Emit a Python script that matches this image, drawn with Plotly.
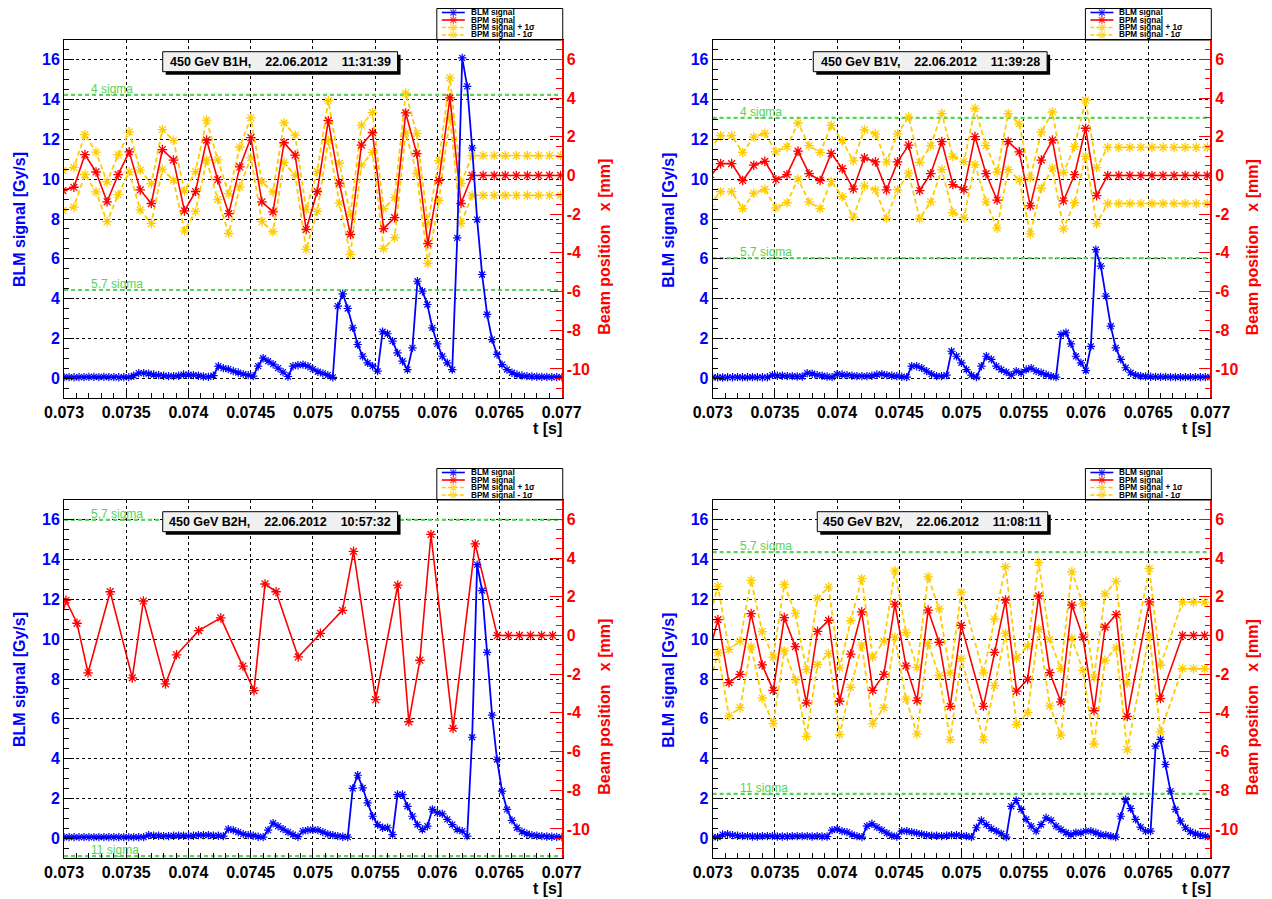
import numpy as np
import plotly.graph_objects as go

W, H = 1272, 899
# measured mapping from figure paper coordinates to the photographed page
AX, KX = 26.9, 0.9692   # horizontal: screen_x = AX + KX * paper_x * W
OY = 8                  # vertical:   screen_y = OY + (1 - paper_y) * H
FONT = "Liberation Sans"

# ---------------------------------------------------------------- data
T_RANGE = [0.073, 0.077]
X_TICKS = [0.073, 0.0735, 0.074, 0.0745, 0.075, 0.0755, 0.076, 0.0765, 0.077]
X_TICK_LABELS = ["0.073", "0.0735", "0.074", "0.0745", "0.075", "0.0755", "0.076", "0.0765", "0.077"]
BLM_RANGE = [-1, 17]
BLM_TICKS = [0, 2, 4, 6, 8, 10, 12, 14, 16]
BPM_RANGE = [-11.5, 7]
BPM_TICKS = [-10, -8, -6, -4, -2, 0, 2, 4, 6]
BPM_TICK_LABELS = ["-10", "-8", "-6", "-4", "-2", "0", "2", "4", "6"]

TITLES = [
    ("450 GeV B1H,", "22.06.2012", "11:31:39"),
    ("450 GeV B1V,", "22.06.2012", "11:39:28"),
    ("450 GeV B2H,", "22.06.2012", "10:57:32"),
    ("450 GeV B2V,", "22.06.2012", "11:08:11"),
]
LEGEND_LABELS = ["BLM signal", "BPM signal", "BPM signal + 1\u03c3", "BPM signal - 1\u03c3"]

# BLM running sum, one sample every 40 us from t = 0.073 s
BLM_T0 = 0.073
BLM_DT = 0.00004
BLM1 = [0.05, 0.05, 0.04, 0.05, 0.05, 0.06, 0.06, 0.05, 0.06, 0.05, 0.05, 0.04, 0.05, 0.05,
        0.12, 0.25, 0.25, 0.22, 0.18, 0.15, 0.12, 0.10, 0.10, 0.12, 0.18, 0.17, 0.15, 0.12, 0.08, 0.06,
        0.12, 0.60, 0.50, 0.45, 0.35, 0.28, 0.20, 0.15, 0.10,
        0.60, 1.00, 0.85, 0.70, 0.50, 0.30, 0.08,
        0.60, 0.65, 0.68, 0.60, 0.45, 0.32, 0.24, 0.15, 0.04,
        3.62, 4.24, 3.50, 2.53, 1.69, 1.10, 0.77, 0.60, 0.35,
        2.33, 2.23, 1.86, 1.27, 0.85, 0.43,
        1.52, 4.87, 4.37, 3.70, 2.53, 1.72, 1.10, 0.77, 0.43,
        7.05, 16.1, 14.67, 11.57, 7.97, 5.21, 3.20, 1.94, 1.19, 0.68, 0.43, 0.27, 0.18, 0.13,
        0.10, 0.08, 0.07, 0.06, 0.06, 0.05, 0.05, 0.05]
BLM2 = [0.04, 0.04, 0.03, 0.04, 0.04, 0.05, 0.04, 0.04, 0.05, 0.04, 0.04, 0.04,
        0.15, 0.12, 0.12, 0.10, 0.10, 0.08, 0.08,
        0.25, 0.22, 0.15, 0.12, 0.08, 0.05,
        0.20, 0.18, 0.15, 0.12, 0.10, 0.10, 0.10, 0.12, 0.18, 0.20, 0.15, 0.12, 0.10, 0.07, 0.05,
        0.60, 0.60, 0.50, 0.35, 0.20, 0.10, 0.10, 0.15,
        1.35, 1.10, 0.77, 0.43, 0.15, 0.05,
        0.60, 1.10, 0.94, 0.60, 0.43, 0.30, 0.15, 0.35, 0.27, 0.43, 0.50, 0.35, 0.27, 0.18, 0.10, 0.05,
        2.20, 2.28, 1.72, 1.10, 0.77, 0.38, 1.60,
        6.46, 5.63, 4.12, 2.61, 1.52, 0.94, 0.52, 0.27, 0.15, 0.10, 0.08, 0.07,
        0.06, 0.06, 0.06, 0.05, 0.05, 0.05, 0.05, 0.05, 0.05, 0.05, 0.05, 0.05]
BLM3 = [0.05] * 17 + [
        0.15, 0.12, 0.12, 0.10, 0.10, 0.12, 0.12, 0.12, 0.10, 0.12, 0.15, 0.15, 0.15, 0.12, 0.12, 0.10,
        0.45, 0.40, 0.30, 0.20, 0.15, 0.12, 0.07, 0.05,
        0.40, 0.75, 0.60, 0.45, 0.30, 0.18, 0.07,
        0.35, 0.40, 0.42, 0.40, 0.30, 0.20, 0.15, 0.10, 0.07, 0.05,
        2.50, 3.16, 2.53, 1.77, 1.10, 0.68, 0.52, 0.52, 0.18,
        2.19, 2.19, 1.60, 1.10, 0.68, 0.43, 0.60, 1.44, 1.27, 1.22, 0.94, 0.68, 0.43, 0.35, 0.10,
        5.07, 13.75, 12.44, 9.34, 6.18, 3.95, 2.36, 1.44, 0.89, 0.52, 0.32, 0.22, 0.15, 0.12, 0.10,
        0.08, 0.07, 0.06, 0.05]
BLM4 = [0.05, 0.05,
        0.18, 0.20, 0.15,
        0.12, 0.10, 0.10, 0.08, 0.08, 0.10, 0.10, 0.10, 0.08, 0.08, 0.08, 0.10, 0.10, 0.10, 0.10, 0.08,
        0.10, 0.08, 0.08,
        0.40, 0.45, 0.35, 0.30, 0.18, 0.10, 0.05,
        0.60, 0.72, 0.55, 0.40, 0.25, 0.12, 0.08,
        0.35, 0.35, 0.30, 0.25, 0.20, 0.15, 0.12, 0.12, 0.10, 0.12, 0.15, 0.15, 0.12, 0.10, 0.05,
        0.52, 0.89, 0.68, 0.48, 0.35, 0.22, 0.05,
        1.60, 1.89, 1.44, 0.94, 0.60, 0.35,
        0.68, 1.02, 0.89, 0.60, 0.43, 0.27, 0.18, 0.27, 0.27, 0.35, 0.35, 0.27, 0.18, 0.15, 0.10, 0.05,
        1.10, 1.94, 1.49, 0.94, 0.55, 0.35, 0.35,
        4.62, 4.96, 3.70, 2.36, 1.44, 0.85, 0.52, 0.32, 0.22, 0.15, 0.10, 0.05]

# BPM: one reading per LHC turn (88.9 us); turn numbers with valid readings
TURN = 0.0000889
BPM_T0 = [0.07299, 0.072975, 0.073015, 0.0729537]
TURNS1 = list(range(46))
BPM1 = [-0.78, -0.61, 1.08, 0.18, -1.36, 0.04, 1.22, -0.75, -1.45, 1.34, 0.79, -1.83, -0.83, 1.83,
        -0.22, -1.97, 0.44, 1.95, -1.36, -1.88, 1.69, 1.05, -2.79, -0.83, 2.83, -0.40, -3.05, 1.57,
        2.22, -2.75, -2.18, 3.23, 1.13, -3.52, -0.26, 4.01, -1.45, 0, 0, 0, 0, 0, 0, 0, 0, 0]
BPM1_UP = [0.25, 0.42, 2.11, 1.21, -0.33, 1.07, 2.25, 0.28, -0.42, 2.37, 1.82, -0.80, 0.20, 2.86,
           0.81, -0.94, 1.47, 2.98, -0.33, -0.85, 2.72, 2.08, -1.76, 0.20, 3.86, 0.63, -2.02, 2.60,
           3.25, -1.72, -1.15, 4.26, 2.16, -2.49, 0.77, 5.04, -0.42,
           1.03, 1.03, 1.03, 1.03, 1.03, 1.03, 1.03, 1.03, 1.03]
BPM1_LO = [-1.81, -1.64, 0.05, -0.85, -2.39, -0.99, 0.19, -1.78, -2.48, 0.31, -0.24, -2.86, -1.86, 0.80,
           -1.25, -3.00, -0.59, 0.92, -2.39, -2.91, 0.66, 0.02, -3.82, -1.86, 1.80, -1.43, -4.08, 0.54,
           1.19, -3.78, -3.21, 2.20, 0.10, -4.55, -1.29, 2.98, -2.48,
           -1.03, -1.03, -1.03, -1.03, -1.03, -1.03, -1.03, -1.03, -1.03]
TURNS2 = list(range(46))
BPM2 = [-0.10, 0.61, 0.61, -0.26, 0.53, 0.73, -0.22, 0.04, 1.26, 0.09, -0.26, 1.14, 0.35, -0.70,
        0.91, 0.70, -0.75, 0.70, 1.57, -0.78, 0.09, 1.75, -0.47, -0.73, 2.01, 0.09, -1.27, 1.75,
        1.22, -1.57, 0.79, 1.83, -1.31, 0.04, 2.44, -1.04, 0, 0, 0, 0, 0, 0, 0, 0, 0, 0]
BPM2_UP = [1.35, 2.06, 2.06, 1.19, 1.98, 2.18, 1.23, 1.49, 2.71, 1.54, 1.19, 2.59, 1.80, 0.75,
           2.36, 2.15, 0.70, 2.15, 3.02, 0.67, 1.54, 3.20, 0.98, 0.72, 3.46, 1.54, 0.18, 3.20,
           2.67, -0.12, 2.24, 3.28, 0.14, 1.49, 3.89, 0.41,
           1.45, 1.45, 1.45, 1.45, 1.45, 1.45, 1.45, 1.45, 1.45, 1.45]
BPM2_LO = [-1.55, -0.84, -0.84, -1.71, -0.92, -0.72, -1.67, -1.41, -0.19, -1.36, -1.71, -0.31, -1.10, -2.15,
           -0.54, -0.75, -2.20, -0.75, 0.12, -2.23, -1.36, 0.30, -1.92, -2.18, 0.56, -1.36, -2.72, 0.30,
           -0.23, -3.02, -0.66, 0.38, -2.76, -1.41, 0.99, -2.49,
           -1.45, -1.45, -1.45, -1.45, -1.45, -1.45, -1.45, -1.45, -1.45, -1.45]
TURNS3 = [-1, 0, 1, 2, 4, 6, 7, 9, 10, 12, 14, 16, 17, 18, 19, 21, 23, 25, 26, 28, 30, 31, 32, 33,
          35, 37, 39, 40, 41, 42, 43, 44]
BPM3 = [-0.50, 1.82, 0.63, -1.93, 2.26, -2.19, 1.78, -2.50, -1.00, 0.25, 0.91, -1.58, -2.85, 2.66,
        2.26, -1.11, 0.11, 1.30, 4.35, -3.32, 2.60, -4.46, -1.28, 5.22, -4.80, 4.73, 0, 0, 0, 0, 0, 0]
TURNS4 = list(range(24)) + list(range(25, 39)) + [40, 41, 43, 44, 45]
BPM4 = [-1.30, 0.82, -2.44, -2.01, 1.13, -1.52, -2.84, 0.92, -0.58, -3.49, 0.21, 0.78, -3.40, -0.96,
        1.22, -2.84, -2.01, 1.62, -1.57, -3.37, 1.31, -0.35, -3.66, 0.52,
        -3.66, -0.87, 1.83, -2.88, -2.27, 2.04, -1.92, -3.43, 1.57, -0.09, -3.89, 0.43, 1.08, -4.18,
        1.74, -3.26, 0, 0, 0]
BPM4_UP = [0.42, 2.54, -0.72, -0.29, 2.85, 0.20, -1.12, 2.64, 1.14, -1.77, 1.93, 2.50, -1.68, 0.76,
           2.94, -1.12, -0.29, 3.34, 0.15, -1.65, 3.03, 1.37, -1.94, 2.24,
           -1.94, 0.85, 3.55, -1.16, -0.55, 3.76, -0.20, -1.71, 3.29, 1.63, -2.17, 2.15, 2.80, -2.46,
           3.46, -1.54, 1.72, 1.72, 1.72]
BPM4_LO = [-3.02, -0.90, -4.16, -3.73, -0.59, -3.24, -4.56, -0.80, -2.30, -5.21, -1.51, -0.94, -5.12, -2.68,
           -0.50, -4.56, -3.73, -0.10, -3.29, -5.09, -0.41, -2.07, -5.38, -1.20,
           -5.38, -2.59, 0.11, -4.60, -3.99, 0.32, -3.64, -5.15, -0.15, -1.81, -5.61, -1.29, -0.64, -5.90,
           0.02, -4.98, -1.72, -1.72, -1.72]

# collimator / aperture levels (mm, right axis)
SIGMA_LEVELS = [[4.16, -5.92], [2.98, -4.27], [5.97, -11.4], [4.31, -8.19]]
SIGMA_LABELS = [["4 sigma", "5.7 sigma"], ["4 sigma", "5.7 sigma"],
                ["5.7 sigma", "11 sigma"], ["5.7 sigma", "11 sigma"]]

PANELS = [
    dict(blm=BLM1, turns=TURNS1, bpm=BPM1, up=BPM1_UP, lo=BPM1_LO),
    dict(blm=BLM2, turns=TURNS2, bpm=BPM2, up=BPM2_UP, lo=BPM2_LO),
    dict(blm=BLM3, turns=TURNS3, bpm=BPM3, up=None, lo=None),
    dict(blm=BLM4, turns=TURNS4, bpm=BPM4, up=BPM4_UP, lo=BPM4_LO),
]

# ---------------------------------------------------------------- layout (screen pixels)
PX_LEFT = [63, 712]
PX_TOP = [40, 500]
PW, PH = 498, 358
TITLE_BOX = [(98.7, 333.7), (100.7, 334.7), (98.7, 333.7), (104.7, 335.3)]

BLUE, RED, YELLOW, GREEN = "#0000ff", "#ff0000", "#ffcc00", "#55d455"


def fx(px):
    return (px - AX) / KX / W


def fy(py):
    return 1 - (py - OY) / H


fig = go.Figure()
layout = dict(width=W, height=H, margin=dict(l=0, r=0, t=0, b=0, pad=0), autosize=False,
              paper_bgcolor="white", plot_bgcolor="rgba(0,0,0,0)", showlegend=False)
shapes, annotations = [], []

for p, pan in enumerate(PANELS):
    col, row = p % 2, p // 2
    x0, y0 = PX_LEFT[col], PX_TOP[row]
    xn = p + 1
    ybn, yon = 2 * p + 1, 2 * p + 2
    xref = "x" if xn == 1 else f"x{xn}"
    ybref = "y" if ybn == 1 else f"y{ybn}"
    yoref = f"y{yon}"
    xkey = "xaxis" if xn == 1 else f"xaxis{xn}"
    ybkey = "yaxis" if ybn == 1 else f"yaxis{ybn}"
    yokey = f"yaxis{yon}"
    xd = [fx(x0), fx(x0 + PW)]
    yd = [fy(y0 + PH), fy(y0)]
    tick_font = dict(family=FONT, size=16, weight="bold")

    layout[xkey] = dict(domain=xd, range=T_RANGE, anchor=ybref, showline=True, linecolor="black",
                        linewidth=1, mirror=True, ticks="inside", ticklen=10, tickcolor="black",
                        tickvals=X_TICKS, ticktext=X_TICK_LABELS,
                        tickfont=dict(tick_font, color="black"),
                        showgrid=True, gridcolor="black", griddash="dot", gridwidth=1,
                        minor=dict(dtick=0.0001, tick0=0.073, ticklen=5, tickcolor="black",
                                   ticks="inside", showgrid=False),
                        zeroline=False, fixedrange=True)
    layout[ybkey] = dict(domain=yd, anchor=xref, side="right", range=BPM_RANGE, showline=True,
                         linecolor="red", linewidth=1.5, ticks="inside", ticklen=12, tickcolor="red",
                         tickvals=BPM_TICKS, ticktext=BPM_TICK_LABELS,
                         tickfont=dict(tick_font, color="red"), showgrid=False, zeroline=False,
                         minor=dict(dtick=0.5, tick0=0, ticklen=6, tickcolor="red", ticks="inside",
                                    showgrid=False),
                         fixedrange=True)
    layout[yokey] = dict(overlaying=ybref, anchor=xref, side="left", range=BLM_RANGE, showline=True,
                         linecolor="black", linewidth=1, ticks="inside", ticklen=10, tickcolor="black",
                         tickvals=BLM_TICKS, tickfont=dict(tick_font, color="blue"),
                         showgrid=True, gridcolor="black", griddash="dot", gridwidth=1, zeroline=False,
                         minor=dict(dtick=0.5, tick0=0, ticklen=5, tickcolor="black", ticks="inside",
                                    showgrid=False),
                         fixedrange=True)

    t_bpm = [BPM_T0[p] + k * TURN for k in pan["turns"]]
    t_blm = [BLM_T0 + i * BLM_DT for i in range(len(pan["blm"]))]

    if pan["up"] is not None:
        for ser in (pan["up"], pan["lo"]):
            fig.add_trace(go.Scatter(x=t_bpm, y=ser, xaxis=xref, yaxis=ybref, mode="lines+markers",
                                     line=dict(color=YELLOW, width=1.8, dash="5px,3px"),
                                     marker=dict(symbol="asterisk-open", size=8,
                                                 line=dict(color=YELLOW, width=1.3)),
                                     hoverinfo="skip"))
    fig.add_trace(go.Scatter(x=t_bpm, y=pan["bpm"], xaxis=xref, yaxis=ybref, mode="lines+markers",
                             line=dict(color=RED, width=1.6),
                             marker=dict(symbol="asterisk-open", size=8, line=dict(color=RED, width=1.3)),
                             hoverinfo="skip"))
    fig.add_trace(go.Scatter(x=t_blm, y=pan["blm"], xaxis=xref, yaxis=yoref, mode="lines+markers",
                             line=dict(color=BLUE, width=1.8),
                             marker=dict(symbol="asterisk-open", size=7, line=dict(color=BLUE, width=1.2)),
                             hoverinfo="skip"))

    # sigma levels
    for lev, lab in zip(SIGMA_LEVELS[p], SIGMA_LABELS[p]):
        shapes.append(dict(type="line", xref=xref, yref=ybref, x0=T_RANGE[0], x1=T_RANGE[1], y0=lev, y1=lev,
                           line=dict(color=GREEN, width=2.2, dash="4px,3px"), layer="between"))
        annotations.append(dict(xref=xref, yref=ybref, x=0.0732, y=lev, text=lab, showarrow=False,
                                xanchor="left", yanchor="bottom", yshift=-3,
                                font=dict(family=FONT, size=12, color=GREEN)))

    # title box with shadow
    bx0, bx1 = TITLE_BOX[p]
    by0, by1 = 11.7, 31.7
    shapes.append(dict(type="rect", xref="paper", yref="paper",
                       x0=fx(x0 + bx0 + 3), x1=fx(x0 + bx1 + 3), y0=fy(y0 + by1 + 3), y1=fy(y0 + by0 + 3),
                       fillcolor="black", line=dict(width=0), layer="above"))
    shapes.append(dict(type="rect", xref="paper", yref="paper",
                       x0=fx(x0 + bx0), x1=fx(x0 + bx1), y0=fy(y0 + by1), y1=fy(y0 + by0),
                       fillcolor="#f0f0f0", line=dict(color="black", width=1), layer="above"))
    gap = "\u00a0" * 4
    annotations.append(dict(xref="paper", yref="paper", x=fx(x0 + (bx0 + bx1) / 2), y=fy(y0 + (by0 + by1) / 2),
                            text=gap.join(TITLES[p]), showarrow=False, xanchor="center", yanchor="middle",
                            font=dict(family=FONT, size=12.5, color="black", weight="bold")))

    # axis titles
    annotations.append(dict(xref="paper", yref="paper", x=fx(x0 + 484), y=fy(y0 + 388), text="t [s]",
                            showarrow=False, xanchor="center", yanchor="middle",
                            font=dict(family=FONT, size=16, color="black", weight="bold")))
    annotations.append(dict(xref="paper", yref="paper", x=fx(x0 - 45), y=fy(y0 + 180),
                            text="BLM signal [Gy/s]", textangle=-90, showarrow=False,
                            xanchor="center", yanchor="middle",
                            font=dict(family=FONT, size=16, color="blue", weight="bold")))
    annotations.append(dict(xref="paper", yref="paper", x=fx(x0 + 540), y=fy(y0 + 207),
                            text="Beam position\u00a0\u00a0\u00a0x [mm]", textangle=-90, showarrow=False,
                            xanchor="center", yanchor="middle",
                            font=dict(family=FONT, size=16, color="red", weight="bold")))

    # legend box (drawn manually, ROOT style)
    shapes.append(dict(type="rect", xref="paper", yref="paper",
                       x0=fx(x0 + 373), x1=fx(x0 + 499), y0=fy(y0), y1=fy(y0 - 31.5),
                       fillcolor="white", line=dict(color="black", width=1), layer="below"))
    leg_styles = [(BLUE, "solid"), (RED, "solid"), (YELLOW, "4px,2px"), (YELLOW, "4px,2px")]
    for j, (lab, (colr, dsh)) in enumerate(zip(LEGEND_LABELS, leg_styles)):
        ry = y0 - 27.5 + 7.5 * j
        fig.add_trace(go.Scatter(x=[x0 + 378, x0 + 389.5, x0 + 401], y=[ry, ry, ry], xaxis="x5", yaxis="y9",
                                 mode="lines+markers", line=dict(color=colr, width=1.6, dash=dsh),
                                 marker=dict(symbol="asterisk-open", size=[0, 7, 0],
                                             line=dict(color=colr, width=1.2)),
                                 hoverinfo="skip", cliponaxis=False))
        annotations.append(dict(xref="paper", yref="paper", x=fx(x0 + 405), y=fy(ry), text=lab,
                                showarrow=False, xanchor="left", yanchor="middle",
                                font=dict(family=FONT, size=8.2, color="black", weight="bold")))

# hidden screen-pixel axes used only for legend samples
layout["xaxis5"] = dict(domain=[0, 1], range=[AX, AX + KX * W], visible=False, anchor="y9", fixedrange=True)
layout["yaxis9"] = dict(domain=[0, 1], range=[H + OY, OY], visible=False, anchor="x5", fixedrange=True)

layout["shapes"] = shapes
layout["annotations"] = annotations
fig.update_layout(**layout)
fig.write_html("out.html")
